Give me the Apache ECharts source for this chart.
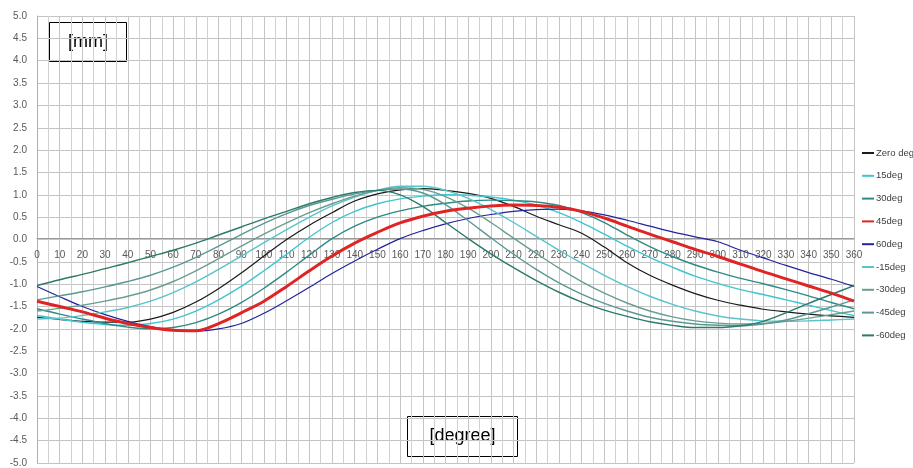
<!DOCTYPE html>
<html>
<head>
<meta charset="utf-8">
<script src="https://cdn.jsdelivr.net/npm/echarts@6/dist/echarts.min.js"></script>
<style>html,body{margin:0;padding:0;background:#fff}#c{width:913px;height:468px}</style>
</head>
<body>
<div id="c"></div>
<script>
const degrees = [0,10,20,30,40,50,60,70,80,90,100,110,120,130,140,150,160,170,180,190,200,210,220,230,240,250,260,270,280,290,300,310,320,330,340,350,360];
const seriesNames = ['Zero deg','15deg','30deg','45deg','60deg','-15deg','-30deg','-45deg','-60deg'];
const zeroDeg = [-1.74,-1.79,-1.83,-1.85,-1.85,-1.78,-1.63,-1.4,-1.1,-0.75,-0.37,0.0,0.32,0.6,0.86,1.02,1.11,1.14,1.1,1.03,0.92,0.74,0.52,0.33,0.14,-0.17,-0.52,-0.8,-1.02,-1.21,-1.36,-1.47,-1.56,-1.62,-1.67,-1.71,-1.74];
const deg15 = [-1.7,-1.78,-1.85,-1.9,-1.92,-1.88,-1.78,-1.6,-1.35,-1.05,-0.7,-0.33,0.05,0.38,0.63,0.8,0.91,0.97,1.0,0.99,0.95,0.88,0.77,0.6,0.38,0.12,-0.15,-0.4,-0.62,-0.82,-0.98,-1.12,-1.23,-1.35,-1.47,-1.59,-1.7];
const deg30 = [-1.55,-1.67,-1.78,-1.88,-1.96,-2.0,-1.97,-1.86,-1.67,-1.41,-1.09,-0.73,-0.35,0.02,0.3,0.5,0.64,0.74,0.81,0.86,0.88,0.87,0.84,0.76,0.6,0.38,0.1,-0.16,-0.38,-0.57,-0.73,-0.87,-0.99,-1.12,-1.26,-1.41,-1.55];
const deg45 = [-1.38,-1.5,-1.62,-1.76,-1.88,-1.97,-2.03,-2.04,-1.88,-1.64,-1.38,-1.05,-0.7,-0.37,-0.08,0.16,0.37,0.52,0.63,0.7,0.75,0.77,0.76,0.72,0.63,0.48,0.3,0.12,-0.05,-0.22,-0.38,-0.55,-0.72,-0.88,-1.04,-1.2,-1.38];
const deg60 = [-1.05,-1.28,-1.5,-1.68,-1.83,-1.95,-2.03,-2.05,-2.0,-1.88,-1.65,-1.37,-1.07,-0.76,-0.48,-0.22,0.02,0.2,0.35,0.47,0.56,0.63,0.67,0.68,0.64,0.55,0.43,0.3,0.17,0.06,-0.05,-0.24,-0.41,-0.58,-0.74,-0.89,-1.05];
const degM15 = [-1.78,-1.76,-1.7,-1.62,-1.52,-1.38,-1.19,-0.95,-0.67,-0.37,-0.07,0.22,0.5,0.75,0.95,1.1,1.19,1.19,1.1,0.92,0.67,0.38,0.07,-0.24,-0.53,-0.8,-1.05,-1.27,-1.45,-1.6,-1.71,-1.78,-1.82,-1.83,-1.82,-1.8,-1.78];
const degM30 = [-1.6,-1.54,-1.47,-1.38,-1.27,-1.13,-0.94,-0.7,-0.43,-0.15,0.12,0.37,0.6,0.8,0.97,1.1,1.16,1.12,0.96,0.7,0.38,0.03,-0.31,-0.64,-0.94,-1.2,-1.42,-1.6,-1.73,-1.82,-1.87,-1.89,-1.88,-1.83,-1.76,-1.68,-1.6];
const degM45 = [-1.35,-1.26,-1.17,-1.06,-0.94,-0.8,-0.62,-0.4,-0.15,0.11,0.36,0.58,0.76,0.9,1.02,1.1,1.13,1.04,0.78,0.42,0.04,-0.33,-0.67,-0.97,-1.22,-1.43,-1.6,-1.74,-1.83,-1.89,-1.92,-1.93,-1.89,-1.8,-1.66,-1.51,-1.35];
const degM60 = [-1.03,-0.9,-0.78,-0.65,-0.52,-0.38,-0.24,-0.08,0.1,0.28,0.46,0.63,0.8,0.94,1.05,1.1,1.0,0.74,0.38,0.02,-0.32,-0.63,-0.92,-1.18,-1.4,-1.58,-1.72,-1.84,-1.92,-1.97,-1.97,-1.93,-1.83,-1.64,-1.43,-1.23,-1.03];

const allValues = [zeroDeg, deg15, deg30, deg45, deg60, degM15, degM30, degM45, degM60];
const colors = ['#1a1a1a','#3ec6d0','#2e8a84','#e02424','#23239a','#58c4cc','#6a9e90','#5a9896','#2c7a6a'];
const widths = [1.2,1.4,1.4,3,1.2,1.4,1.4,1.4,1.4];

const gridTop = 16, gridBottom = 3, chartH = 468;
const plotH = chartH - gridTop - gridBottom;

const chart = echarts.init(document.getElementById('c'));
const series = seriesNames.map((name, i) => ({
  name: name,
  type: 'line',
  data: degrees.map((d, j) => [d, allValues[i][j]]),
  showSymbol: false,
  symbol: 'none',
  smooth: 0.35,
  z: name === '45deg' ? 5 : 3,
  lineStyle: { color: colors[i], width: widths[i] },
  itemStyle: { color: colors[i] }
}));

chart.setOption({
  animation: false,
  backgroundColor: '#ffffff',
  grid: { left: 37, right: 59, top: gridTop, bottom: gridBottom, containLabel: false },
  legend: {
    orient: 'vertical',
    left: 857,
    top: 143,
    itemWidth: 12,
    itemHeight: 2,
    itemGap: 12.8,
    icon: 'rect',
    textStyle: { fontFamily: 'Liberation Sans', fontSize: 9.5, color: '#404040', padding: [0, 0, 0, -3] },
    data: seriesNames
  },
  xAxis: {
    type: 'value',
    position: 'bottom',
    offset: -plotH / 2,
    min: 0, max: 360, interval: 10,
    axisLine: { onZero: false, lineStyle: { color: '#9a9a9a', width: 1 } },
    axisTick: { show: false },
    axisLabel: { color: '#595959', fontSize: 10, fontFamily: 'Liberation Sans', margin: 12 },
    splitLine: { show: true, lineStyle: { color: '#c4c4c4', width: 1 } },
    minorTick: { show: false, splitNumber: 2 },
    minorSplitLine: { show: true, lineStyle: { color: '#d0d0d0', width: 1 } }
  },
  yAxis: {
    type: 'value',
    min: -5, max: 5, interval: 0.5,
    axisLine: { show: true, onZero: false, lineStyle: { color: '#b0b0b0' } },
    axisTick: { show: false },
    axisLabel: { color: '#595959', fontSize: 10, fontFamily: 'Liberation Sans', margin: 10, formatter: v => v.toFixed(1) },
    splitLine: { show: true, lineStyle: { color: '#c4c4c4', width: 1 } }
  },
  graphic: [
    { type: 'group', left: 49, top: 22, children: [
      { type: 'rect', shape: { x: 0, y: 0, width: 77, height: 39 }, style: { fill: '#fff', stroke: '#000', lineWidth: 1 } },
      { type: 'text', style: { x: 38.5, y: 20, text: '[mm]', fontSize: 18, fontFamily: 'Liberation Sans', fill: '#000', align: 'center', verticalAlign: 'middle' } }
    ]},
    { type: 'group', left: 407, top: 416, children: [
      { type: 'rect', shape: { x: 0, y: 0, width: 110, height: 40 }, style: { fill: '#fff', stroke: '#000', lineWidth: 1 } },
      { type: 'text', style: { x: 55, y: 20, text: '[degree]', fontSize: 18, fontFamily: 'Liberation Sans', fill: '#000', align: 'center', verticalAlign: 'middle' } }
    ]}
  ],
  series: series
});
</script>
</body>
</html>
